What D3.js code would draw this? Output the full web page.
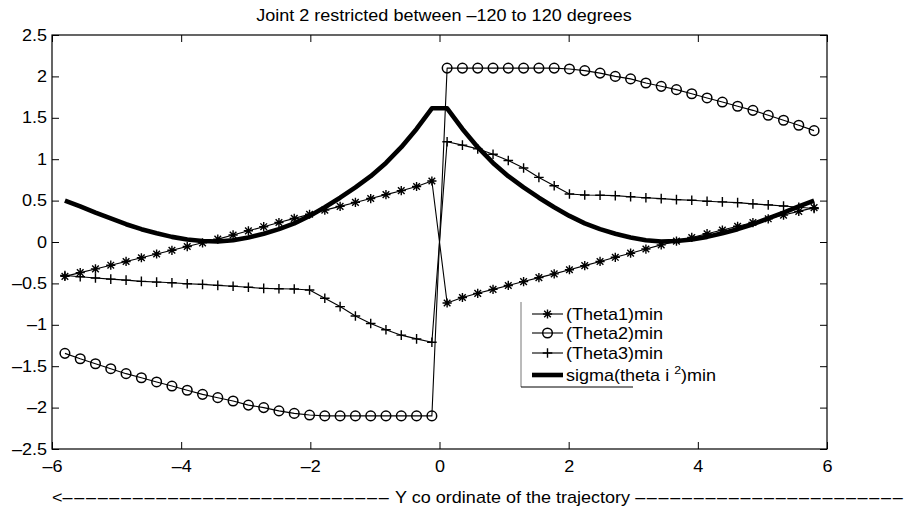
<!DOCTYPE html>
<html>
<head>
<meta charset="utf-8">
<script src="https://cdn.jsdelivr.net/npm/d3@7"></script>
<style>
  body { margin: 0; background: #fff; }
  text { font-family: "Liberation Sans", Arial, Helvetica, sans-serif; fill: #000; }
</style>
</head>
<body>
<svg id="canvas" width="907" height="509"></svg>
<script>
// trajectory Y coordinate (50 samples)
var yCoord = [-5.800, -5.563, -5.327, -5.090, -4.853, -4.616, -4.380, -4.143, -3.906, -3.669,
  -3.433, -3.196, -2.959, -2.722, -2.486, -2.249, -2.012, -1.776, -1.539, -1.302,
  -1.065, -0.829, -0.592, -0.355, -0.118, 0.118, 0.355, 0.592, 0.829, 1.065,
  1.302, 1.539, 1.776, 2.012, 2.249, 2.486, 2.722, 2.959, 3.196, 3.433,
  3.669, 3.906, 4.143, 4.380, 4.616, 4.853, 5.090, 5.327, 5.563, 5.800];

var theta1 = [-0.415, -0.37, -0.325, -0.28, -0.235, -0.19, -0.145, -0.10, -0.055, -0.01,
  0.035, 0.085, 0.135, 0.185, 0.235, 0.285, 0.335, 0.385, 0.43, 0.478,
  0.525, 0.572, 0.62, 0.67, 0.737, -0.737, -0.67, -0.62, -0.572, -0.525,
  -0.478, -0.43, -0.385, -0.335, -0.285, -0.235, -0.185, -0.135, -0.085, -0.035,
  0.01, 0.055, 0.10, 0.145, 0.19, 0.235, 0.28, 0.325, 0.37, 0.415];

var theta2 = [-1.345, -1.41, -1.47, -1.53, -1.59, -1.64, -1.69, -1.74, -1.79, -1.84,
  -1.88, -1.92, -1.97, -2.00, -2.04, -2.07, -2.09, -2.10, -2.10, -2.10,
  -2.10, -2.10, -2.10, -2.10, -2.10, 2.10, 2.10, 2.10, 2.10, 2.10,
  2.10, 2.10, 2.10, 2.09, 2.07, 2.04, 2.00, 1.97, 1.92, 1.88,
  1.84, 1.79, 1.74, 1.69, 1.64, 1.59, 1.53, 1.47, 1.41, 1.345];

var theta3 = [-0.405, -0.42, -0.435, -0.448, -0.46, -0.475, -0.484, -0.493, -0.504, -0.512,
  -0.524, -0.535, -0.547, -0.56, -0.564, -0.568, -0.58, -0.68, -0.78, -0.894,
  -0.985, -1.06, -1.125, -1.17, -1.21, 1.21, 1.17, 1.125, 1.06, 0.985,
  0.894, 0.78, 0.68, 0.58, 0.568, 0.564, 0.56, 0.547, 0.535, 0.524,
  0.512, 0.504, 0.493, 0.484, 0.475, 0.46, 0.448, 0.435, 0.42, 0.405];

var sigma = [0.50, 0.43, 0.355, 0.285, 0.215, 0.155, 0.105, 0.062, 0.03, 0.012,
  0.006, 0.022, 0.055, 0.10, 0.155, 0.225, 0.315, 0.42, 0.535, 0.66,
  0.795, 0.955, 1.145, 1.365, 1.615, 1.615, 1.365, 1.145, 0.955, 0.795,
  0.66, 0.535, 0.42, 0.315, 0.225, 0.155, 0.10, 0.055, 0.022, 0.006,
  0.012, 0.03, 0.062, 0.105, 0.155, 0.215, 0.285, 0.355, 0.43, 0.50];

var xTicks = [-6, -4, -2, 0, 2, 4, 6];
var yTicks = [-2.5, -2, -1.5, -1, -0.5, 0, 0.5, 1, 1.5, 2, 2.5];
var legendLabels = ['(Theta1)min', '(Theta2)min', '(Theta3)min'];

var canvas = d3.select('#canvas');
var margin = { left: 52, right: 80, top: 35, bottom: 60 };
var width = +canvas.attr('width');
var height = +canvas.attr('height');
var sx = 1.127; // the reference text is a little stretched sideways

var xScale = d3.scaleLinear().domain([-6, 6]).range([margin.left, width - margin.right]);
var yScale = d3.scaleLinear().domain([-2.5, 2.5]).range([height - margin.bottom, margin.top]);

var fmt = function(d) { return d < 0 ? '\u2013' + Math.abs(d) : '' + d; };

// axes, ticks pointing inward
var gx = canvas.append('g')
  .attr('transform', 'translate(0,' + yScale(-2.5) + ')')
  .call(d3.axisBottom(xScale).tickValues(xTicks).tickFormat(fmt)
    .tickSizeInner(-7).tickSizeOuter(0).tickPadding(12));
var gy = canvas.append('g')
  .attr('transform', 'translate(' + xScale(-6) + ',0)')
  .call(d3.axisLeft(yScale).tickValues(yTicks).tickFormat(fmt)
    .tickSizeInner(-7).tickSizeOuter(0).tickPadding(5));
canvas.append('g')
  .attr('transform', 'translate(0,' + yScale(2.5) + ')')
  .call(d3.axisTop(xScale).tickValues(xTicks).tickFormat('').tickSizeInner(-7).tickSizeOuter(0));
canvas.append('g')
  .attr('transform', 'translate(' + xScale(6) + ',0)')
  .call(d3.axisRight(yScale).tickValues(yTicks).tickFormat('').tickSizeInner(-7).tickSizeOuter(0));

canvas.selectAll('.domain').remove();
canvas.selectAll('.tick line').style('stroke', '#000').style('stroke-width', 1);
canvas.selectAll('.tick text').style('font-size', '16px').style('fill', '#000');
gx.selectAll('.tick text').attr('transform', 'scale(' + sx + ',1)');
gy.selectAll('.tick text').attr('transform', 'scale(' + sx + ',1)').attr('x', -5 / sx);

canvas.append('rect')
  .attr('x', xScale(-6)).attr('y', yScale(2.5))
  .attr('width', xScale(6) - xScale(-6)).attr('height', yScale(-2.5) - yScale(2.5))
  .style('fill', 'none').style('stroke', '#000').style('stroke-width', 1.2);

// series
var pts = function(vals) { return vals.map(function(v, i) { return [yCoord[i], v]; }); };
var line = d3.line().x(function(d) { return xScale(d[0]); }).y(function(d) { return yScale(d[1]); });

function drawLine(vals, w) {
  canvas.append('path').datum(pts(vals)).attr('d', line)
    .style('fill', 'none').style('stroke', '#000').style('stroke-width', w)
    .style('stroke-linejoin', 'round');
}

function starPath(cx, cy, r) {
  var d = r * 0.72;
  return 'M' + (cx - r) + ',' + cy + 'H' + (cx + r) +
    'M' + cx + ',' + (cy - r) + 'V' + (cy + r) +
    'M' + (cx - d) + ',' + (cy - d) + 'L' + (cx + d) + ',' + (cy + d) +
    'M' + (cx - d) + ',' + (cy + d) + 'L' + (cx + d) + ',' + (cy - d);
}
function plusPath(cx, cy, r) {
  return 'M' + (cx - r) + ',' + cy + 'H' + (cx + r) + 'M' + cx + ',' + (cy - r) + 'V' + (cy + r);
}

function drawMarkers(vals, kind) {
  var sel = canvas.append('g').selectAll('m').data(pts(vals)).enter();
  if (kind === 'o') {
    sel.append('circle')
      .attr('cx', function(d) { return xScale(d[0]); })
      .attr('cy', function(d) { return yScale(d[1]); })
      .attr('r', 4.8)
      .style('fill', 'none').style('stroke', '#000').style('stroke-width', 1.5);
  } else {
    sel.append('path')
      .attr('d', function(d) {
        return kind === '*' ? starPath(xScale(d[0]), yScale(d[1]), 4.6)
          : plusPath(xScale(d[0]), yScale(d[1]), 4.8);
      })
      .style('fill', 'none').style('stroke', '#000').style('stroke-width', 1.4);
  }
}

drawLine(theta1, 1.1); drawMarkers(theta1, '*');
drawLine(theta2, 1.1); drawMarkers(theta2, 'o');
drawLine(theta3, 1.1); drawMarkers(theta3, '+');
drawLine(sigma, 4.6);

// legend
var lg = canvas.append('g');
lg.append('line').attr('x1', 521).attr('x2', 521).attr('y1', 302).attr('y2', 387)
  .style('stroke', '#777').style('stroke-width', 1);
lg.append('line').attr('x1', 521).attr('x2', 633).attr('y1', 387).attr('y2', 387)
  .style('stroke', '#000').style('stroke-width', 1);
var rows = [314, 333, 353, 375];
var kinds = ['*', 'o', '+'];
rows.forEach(function(ry, i) {
  lg.append('line').attr('x1', 532).attr('x2', 563).attr('y1', ry).attr('y2', ry)
    .style('stroke', '#000').style('stroke-width', i === 3 ? 4.6 : 1.1);
  if (i < 3) {
    if (kinds[i] === 'o') {
      lg.append('circle').attr('cx', 547.5).attr('cy', ry).attr('r', 4.8)
        .style('fill', 'none').style('stroke', '#000').style('stroke-width', 1.5);
    } else {
      lg.append('path').attr('d', kinds[i] === '*' ? starPath(547.5, ry, 4.6) : plusPath(547.5, ry, 4.8))
        .style('fill', 'none').style('stroke', '#000').style('stroke-width', 1.4);
    }
  }
  var t = lg.append('text')
    .attr('transform', 'translate(566,' + (ry + 5.5) + ') scale(' + sx + ',1)')
    .style('font-size', '16px');
  if (i < 3) {
    t.text(legendLabels[i]);
  } else {
    t.append('tspan').text('sigma(theta i ');
    t.append('tspan').text('2').style('font-size', '11px').attr('dy', -7);
    t.append('tspan').text(')min').attr('dy', 7);
  }
});

// title and x label
canvas.append('text')
  .attr('transform', 'translate(444,21) scale(' + sx + ',1)')
  .attr('text-anchor', 'middle').style('font-size', '16px')
  .text('Joint 2 restricted between \u2013120 to 120 degrees');

var dashRun = function(n) { return d3.range(n).map(function() { return '\u2013'; }).join(''); };
var xl = canvas.append('text')
  .attr('transform', 'translate(52,503) scale(' + sx + ',1)')
  .style('font-size', '16px');
xl.append('tspan').text('<');
xl.append('tspan').text(dashRun(28)).style('letter-spacing', '1.5px');
xl.append('tspan').text(' Y co ordinate of the trajectory ');
xl.append('tspan').text(dashRun(23)).style('letter-spacing', '1.5px');
</script>
</body>
</html>
